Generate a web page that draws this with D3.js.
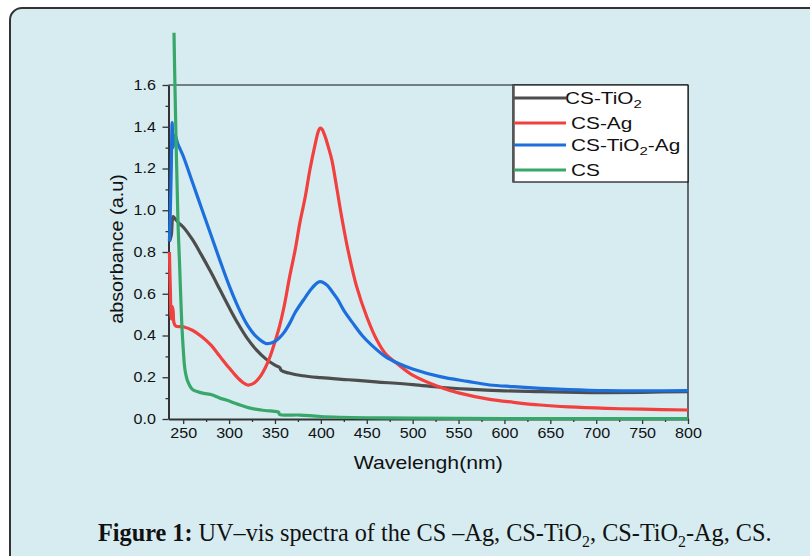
<!DOCTYPE html>
<html>
<head>
<meta charset="utf-8">
<script src="https://cdn.jsdelivr.net/npm/d3@7"></script>
<style>
  html, body { margin: 0; padding: 0; background: #ffffff; }
  svg { display: block; }
</style>
</head>
<body>
<svg id="chart" width="810" height="556"></svg>
<script>
// ---------------- data ----------------
const seriesNames = ["CS-TiO2", "CS-Ag", "CS-TiO2-Ag", "CS"];
const seriesColors = ["#4d4d4d", "#f2403f", "#1c6fdc", "#38a86a"];

const csTiO2 = [[235,0.85],[237,0.88],[239,0.97],[241,0.96],[245,0.94],[250,0.92],[260,0.86],[270,0.785],[280,0.705],[290,0.62],[300,0.535],[310,0.455],[320,0.385],[330,0.33],[340,0.288],[350,0.258],[355,0.247],[357,0.232],[365,0.22],[380,0.207],[400,0.198],[430,0.188],[460,0.178],[500,0.165],[530,0.152],[560,0.143],[600,0.135],[640,0.131],[680,0.127],[711,0.126],[750,0.128],[800,0.131]];

const csAg = [[235,0.80],[236,0.62],[237,0.48],[238,0.54],[239,0.52],[240,0.46],[242,0.445],[250,0.442],[260,0.425],[270,0.395],[280,0.355],[290,0.30],[300,0.245],[305,0.219],[310,0.195],[315,0.175],[320,0.163],[325,0.167],[330,0.183],[335,0.21],[340,0.25],[345,0.303],[350,0.37],[355,0.445],[360,0.54],[366,0.682],[372,0.81],[377,0.937],[383,1.065],[388,1.193],[394,1.32],[397,1.375],[399,1.393],[401,1.39],[404.5,1.355],[408,1.305],[412,1.24],[417,1.115],[423,0.96],[430,0.80],[439,0.634],[450,0.49],[461,0.378],[470,0.315],[484,0.262],[500,0.21],[530,0.152],[550,0.125],[584,0.094],[610,0.08],[639,0.067],[670,0.058],[711,0.051],[750,0.047],[800,0.043]];

const csTiO2Ag = [[235,0.85],[236,1.0],[237,1.2],[238,1.42],[239,1.3],[241,1.36],[244,1.32],[250,1.26],[260,1.135],[270,1.01],[280,0.885],[290,0.76],[300,0.64],[310,0.535],[320,0.45],[330,0.393],[340,0.362],[345,0.363],[350,0.372],[355,0.39],[360,0.415],[366,0.458],[372,0.51],[381,0.57],[390,0.625],[396,0.652],[399,0.658],[402,0.655],[407,0.64],[412,0.612],[418,0.575],[425,0.52],[435,0.458],[445,0.40],[455,0.355],[470,0.30],[484,0.267],[500,0.24],[530,0.203],[560,0.18],[584,0.163],[610,0.155],[639,0.147],[670,0.141],[711,0.136],[750,0.135],[800,0.136]];

const cs = [[240,1.85],[241,1.6],[244.3,0.95],[246,0.75],[248.3,0.474],[250,0.34],[252,0.235],[255,0.18],[260,0.142],[270,0.125],[282,0.115],[290,0.10],[297,0.091],[310,0.07],[323,0.052],[335,0.043],[352,0.035],[354,0.033],[355,0.022],[377,0.019],[400,0.012],[450,0.006],[500,0.004],[600,0.002],[800,0.002]];

const xMajorTicks = [250,300,350,400,450,500,550,600,650,700,750,800];
const xMinorTicks = [275,325,375,425,475,525,575,625,675,725,775];
const yMajorTicks = [0,0.2,0.4,0.6,0.8,1.0,1.2,1.4,1.6];
const yMinorTicks = [0.1,0.3,0.5,0.7,0.9,1.1,1.3,1.5];

// ---------------- drawing ----------------
const svg = d3.select("#chart");

svg.append("rect")
  .attr("x", 10).attr("y", 8).attr("width", 900).attr("height", 700)
  .attr("rx", 12).attr("ry", 12)
  .attr("fill", "#d7ecf1").attr("stroke", "#333").attr("stroke-width", 2);

const x = d3.scaleLinear().domain([234, 800]).range([168.5, 688]);
const y = d3.scaleLinear().domain([0, 1.6]).range([419, 85]);

const sans = "'Liberation Sans', Arial, sans-serif";
const stretch = 1.15;

svg.append("line").attr("x1", x(234)).attr("x2", x(800)).attr("y1", y(1.6)).attr("y2", y(1.6))
  .attr("stroke", "#111").attr("stroke-width", 1.2);
svg.append("line").attr("x1", x(800)).attr("x2", x(800)).attr("y1", y(1.6)).attr("y2", y(0))
  .attr("stroke", "#111").attr("stroke-width", 1.2);

// x axis
const gx = svg.append("g").attr("transform", `translate(0,${y(0)})`);
gx.call(d3.axisBottom(x).tickValues(xMajorTicks).tickSize(5).tickSizeOuter(0).tickPadding(4).tickFormat(d3.format("d")));
gx.append("g").call(d3.axisBottom(x).tickValues(xMinorTicks).tickSize(3).tickSizeOuter(0).tickFormat(""))
  .select(".domain").remove();
gx.selectAll(".domain").attr("stroke", "#333").attr("stroke-width", 2);
gx.selectAll(".tick line").attr("stroke", "#333").attr("stroke-width", 1.3);
gx.selectAll(".tick text").attr("font-family", sans).attr("font-size", 14).attr("fill", "#111")
  .attr("transform", `scale(${stretch},1)`);

// y axis
const gy = svg.append("g").attr("transform", `translate(${x(234)},0)`);
gy.call(d3.axisLeft(y).tickValues(yMajorTicks).tickSize(6).tickSizeOuter(0).tickPadding(5).tickFormat(d3.format(".1f")));
gy.append("g").call(d3.axisLeft(y).tickValues(yMinorTicks).tickSize(3).tickSizeOuter(0).tickFormat(""))
  .select(".domain").remove();
gy.selectAll(".domain").attr("stroke", "#333").attr("stroke-width", 2);
gy.selectAll(".tick line").attr("stroke", "#333").attr("stroke-width", 1.3);
gy.selectAll(".tick text").attr("font-family", sans).attr("font-size", 14).attr("fill", "#111")
  .attr("transform", `scale(${stretch},1)`);

// axis titles
svg.append("text")
  .attr("transform", `translate(${(x(234)+x(800))/2},469) scale(${stretch+0.03},1)`)
  .attr("text-anchor", "middle").attr("font-family", sans).attr("font-size", 18).attr("fill", "#111")
  .text("Wavelengh(nm)");
svg.append("text")
  .attr("transform", `translate(123,${(y(0)+y(1.6))/2 - 3}) rotate(-90) scale(1.1,1)`)
  .attr("text-anchor", "middle").attr("font-family", sans).attr("font-size", 18).attr("fill", "#111")
  .text("absorbance (a.u)");

// lines
const line = d3.line().x(d => x(d[0])).y(d => y(d[1])).curve(d3.curveCatmullRom.alpha(0.5));
const allSeries = [csTiO2, csAg, csTiO2Ag, cs];
allSeries.forEach((s, i) => {
  svg.append("path").datum(s)
    .attr("d", line).attr("fill", "none")
    .attr("stroke", seriesColors[i]).attr("stroke-width", 3.2)
    .attr("stroke-linejoin", "round").attr("stroke-linecap", "butt");
});

// legend
const lg = svg.append("g");
lg.append("rect").attr("x", 513).attr("y", 85).attr("width", 175).attr("height", 97)
  .attr("fill", "#ffffff").attr("stroke", "#111").attr("stroke-width", 1.2);
lg.append("line").attr("x1", 513.5).attr("x2", 513.5).attr("y1", 85).attr("y2", 182)
  .attr("stroke", "#555").attr("stroke-width", 2.5);
const legendY = [98, 123, 145, 170];
const legendTextX = [565, 571, 571, 571];
seriesNames.forEach((name, i) => {
  lg.append("line").attr("x1", 514).attr("x2", 566).attr("y1", legendY[i]).attr("y2", legendY[i])
    .attr("stroke", seriesColors[i]).attr("stroke-width", 3.2);
  const t = lg.append("text")
    .attr("transform", `translate(${legendTextX[i]},${legendY[i] + 6}) scale(1.3,1)`)
    .attr("font-family", sans).attr("font-size", 16).attr("fill", "#111");
  const parts = name.split("TiO2");
  if (parts.length > 1) {
    t.append("tspan").text(parts[0] + "TiO");
    t.append("tspan").attr("font-size", 11.5).attr("dy", 4).text("2");
    if (parts[1]) t.append("tspan").attr("dy", -4).text(parts[1]);
  } else {
    t.text(name);
  }
});

// caption
const serif = "'Liberation Serif', 'Times New Roman', serif";
const cap = svg.append("text").attr("font-family", serif).attr("font-size", 26).attr("fill", "#111");
cap.append("tspan").attr("font-weight", "bold").text("Figure 1:");
cap.append("tspan").text(" UV–vis spectra of the CS –Ag, CS-TiO");
cap.append("tspan").attr("font-size", 17).attr("dy", 6).text("2");
cap.append("tspan").attr("dy", -6).text(", CS-TiO");
cap.append("tspan").attr("font-size", 17).attr("dy", 6).text("2");
cap.append("tspan").attr("dy", -6).text("-Ag, CS.");
const bb = cap.node().getBBox();
const targetW = 674;
const sx = targetW / bb.width;
cap.attr("transform", `translate(98,541) scale(${sx},1)`);
</script>
</body>
</html>
